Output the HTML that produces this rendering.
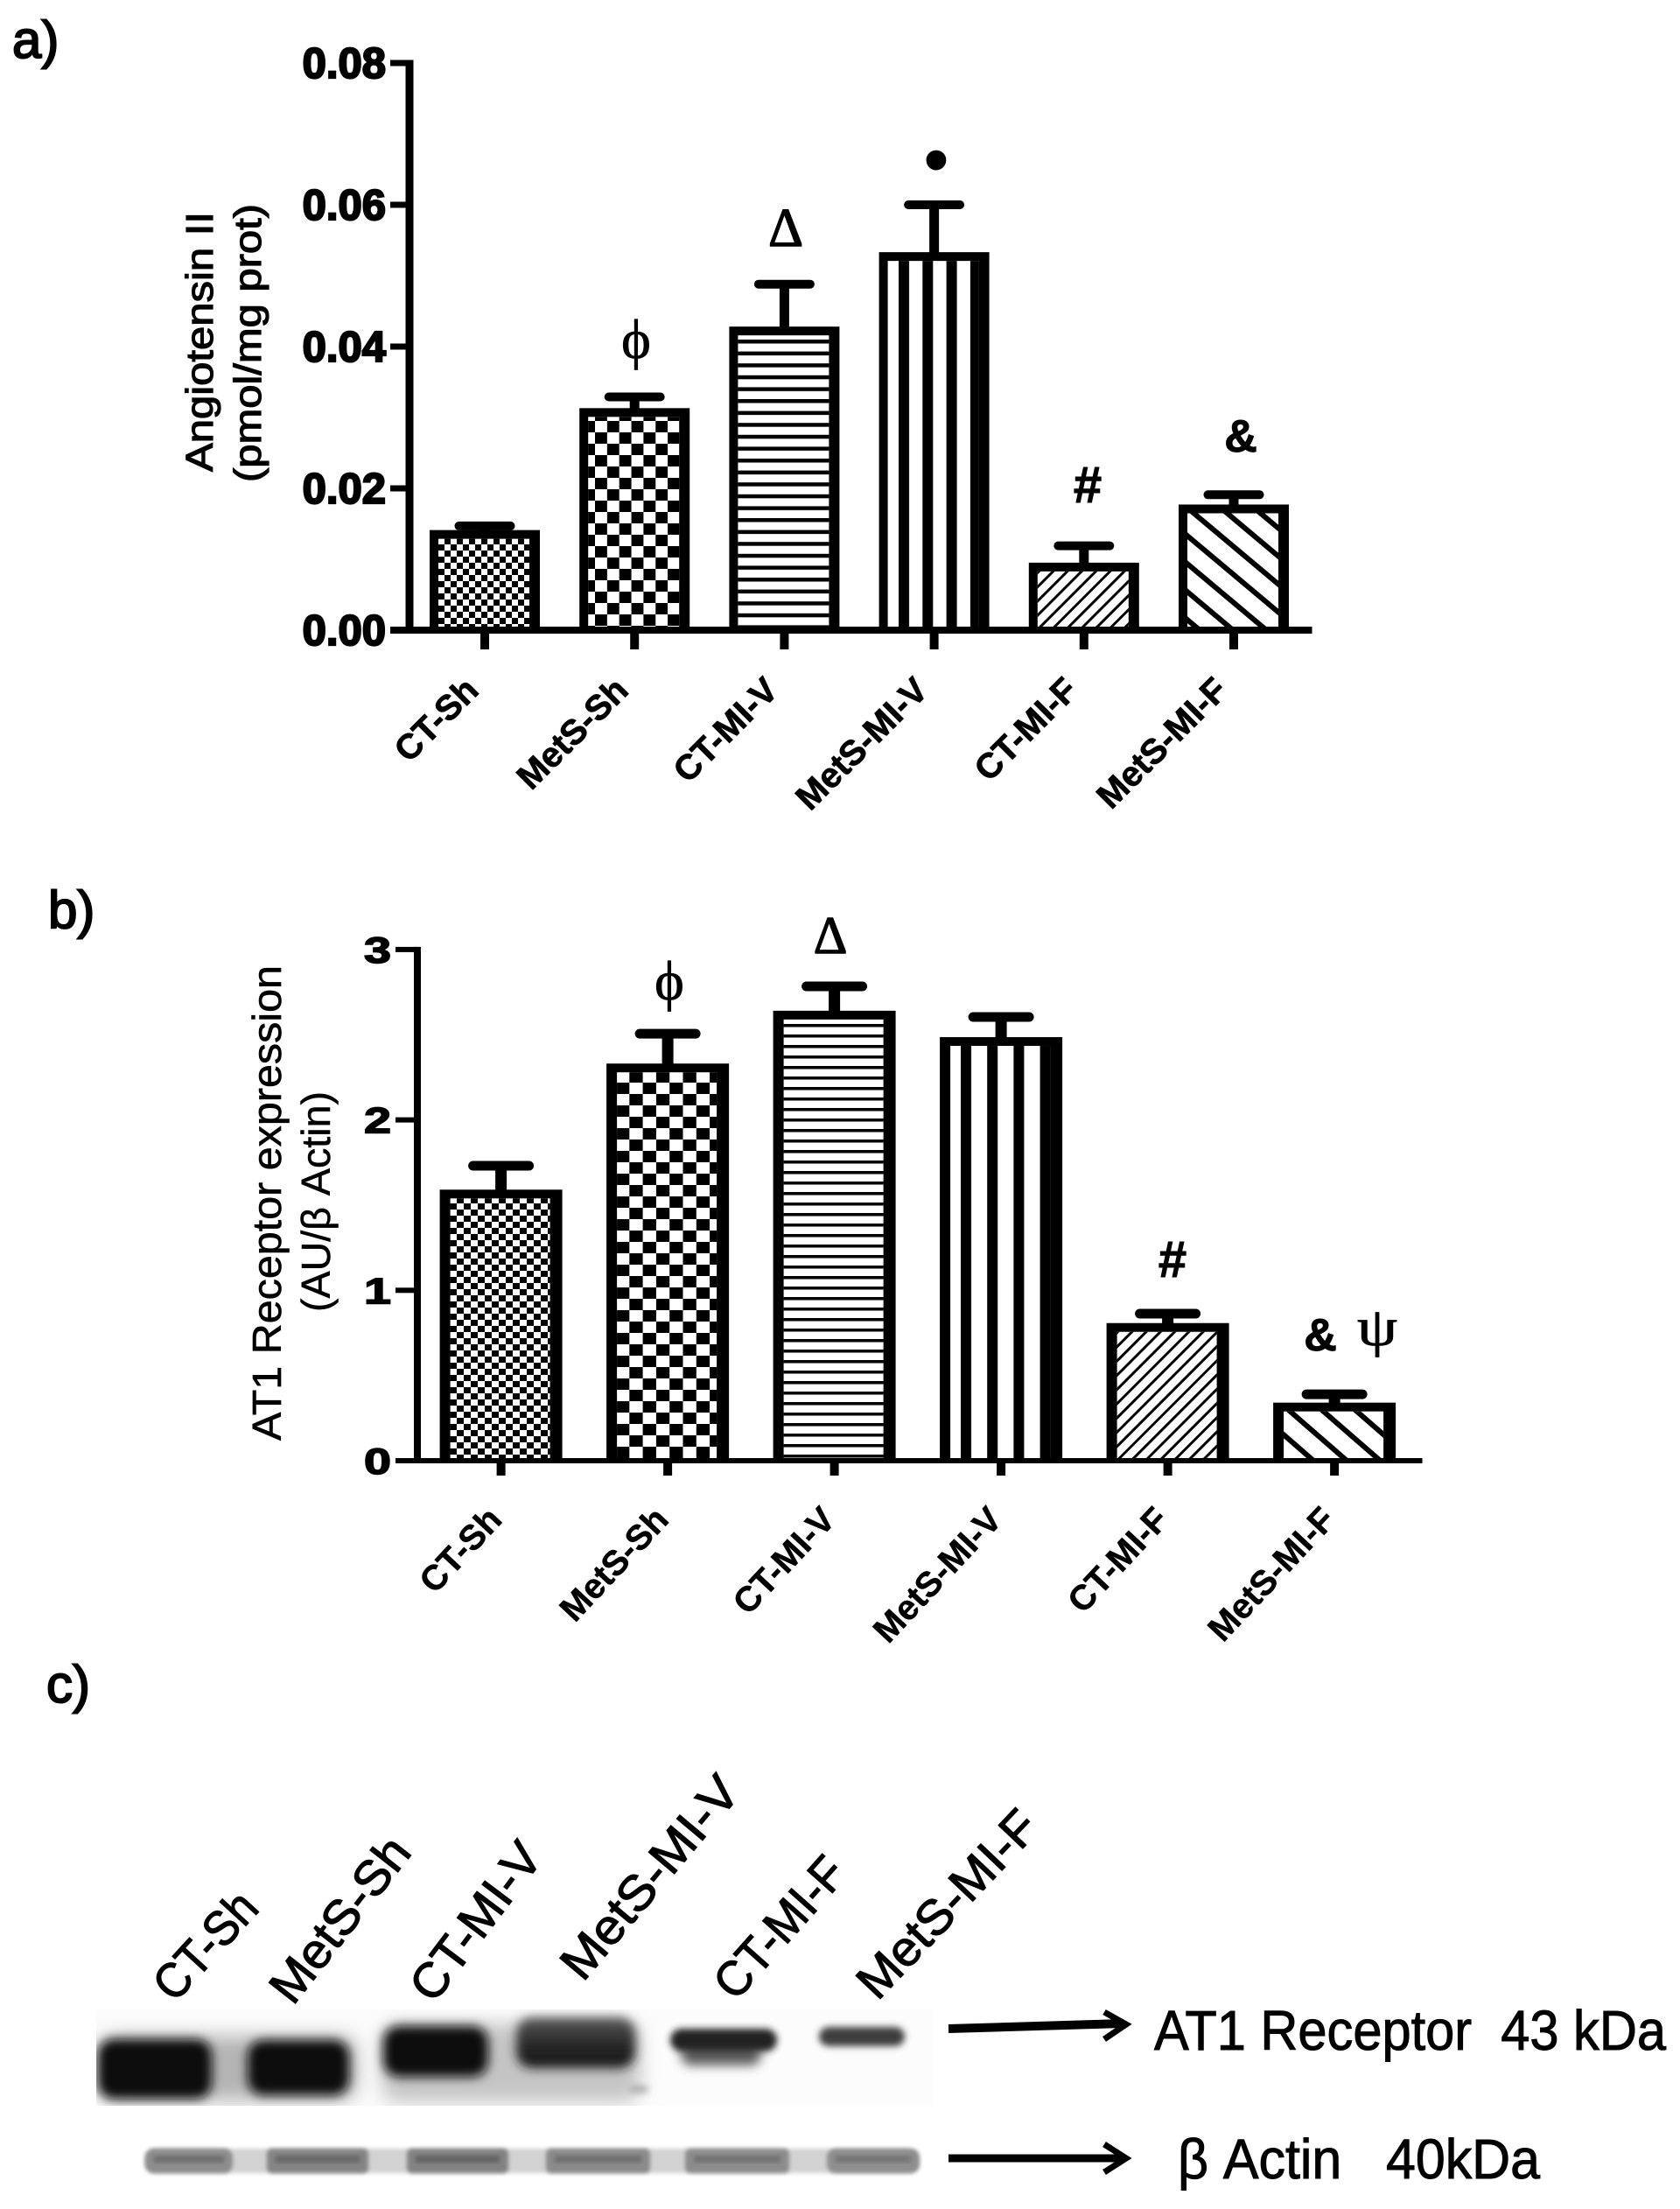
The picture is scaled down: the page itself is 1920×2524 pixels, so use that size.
<!DOCTYPE html>
<html lang="en">
<head>
<meta charset="utf-8">
<title>Angiotensin II and AT1 receptor expression</title>
<style>
html,body{margin:0;padding:0;background:#fff;}
svg{display:block;}
text{font-family:"Liberation Sans",sans-serif;fill:#000;}
.panel{font-size:60px;stroke:#000;stroke-width:2px;}
.sym{font-family:"Liberation Serif","DejaVu Serif",serif;text-anchor:middle;}
.hash{font-weight:bold;text-anchor:middle;font-size:58px;stroke:#000;stroke-width:1px;}
.blot-label{font-size:56px;stroke:#000;stroke-width:1.2px;text-anchor:end;}
.ann{font-size:64px;white-space:pre;stroke:#000;stroke-width:1px;}
</style>
</head>
<body>
<svg id="figure" xmlns="http://www.w3.org/2000/svg" width="1920" height="2524" viewBox="0 0 1920 2524">
<defs>
  <pattern id="a0" patternUnits="userSpaceOnUse" x="501" y="615" width="14" height="14"><rect x="7" width="7" height="7"/><rect y="7" width="7" height="7"/></pattern>
  <pattern id="a1" patternUnits="userSpaceOnUse" x="680" y="572" width="27.7" height="26"><rect width="13.85" height="13"/><rect x="13.85" y="13" width="13.85" height="13"/></pattern>
  <pattern id="a2" patternUnits="userSpaceOnUse" x="842" y="388" width="10" height="13.6"><rect width="10" height="4.5"/></pattern>
  <pattern id="a3" patternUnits="userSpaceOnUse" x="1027" y="0" width="27.3" height="10"><rect width="12" height="10"/></pattern>
  <pattern id="a4" patternUnits="userSpaceOnUse" width="11.5" height="11.5" patternTransform="rotate(45 1186 652)" x="1186" y="652"><rect width="3" height="11.5"/></pattern>
  <pattern id="a5" patternUnits="userSpaceOnUse" width="24.5" height="24.5" patternTransform="rotate(-50 1358 585)" x="1358" y="585"><rect width="6" height="24.5"/></pattern>
  <pattern id="b0" patternUnits="userSpaceOnUse" x="514" y="1368" width="16" height="14"><rect x="8" width="8" height="7"/><rect y="7" width="8" height="7"/></pattern>
  <pattern id="b1" patternUnits="userSpaceOnUse" x="704" y="1224" width="30.6" height="26"><rect x="15.3" width="15.3" height="13"/><rect y="13" width="15.3" height="13"/></pattern>
  <pattern id="b2" patternUnits="userSpaceOnUse" x="893" y="1170" width="10" height="12"><rect width="10" height="3.5"/></pattern>
  <pattern id="b3" patternUnits="userSpaceOnUse" x="1098" y="0" width="30.2" height="10"><rect width="12" height="10"/></pattern>
  <pattern id="b4" patternUnits="userSpaceOnUse" width="11.5" height="11.5" patternTransform="rotate(45 1276 1521)" x="1276" y="1521"><rect width="3" height="11.5"/></pattern>
  <pattern id="b5" patternUnits="userSpaceOnUse" width="25" height="25" patternTransform="rotate(-49 1468 1611)" x="1468" y="1611"><rect width="6" height="25"/></pattern>
  <linearGradient id="band4-fill" x1="0" y1="0" x2="0" y2="1"><stop offset="0" stop-color="#5a5a5a"/><stop offset=".55" stop-color="#262626"/><stop offset="1" stop-color="#161616"/></linearGradient>
  <filter id="blur-haze" x="-30%" y="-60%" width="160%" height="220%"><feGaussianBlur stdDeviation="11"/></filter>
  <filter id="blur-band" x="-30%" y="-60%" width="160%" height="220%"><feGaussianBlur stdDeviation="6"/></filter>
  <filter id="blur-small" x="-15%" y="-80%" width="130%" height="260%"><feGaussianBlur stdDeviation="4"/></filter>
  <filter id="blur-edge" x="-5%" y="-20%" width="110%" height="140%"><feGaussianBlur stdDeviation="2.5"/></filter>
  <clipPath id="blot-clip"><rect x="110" y="2296" width="955" height="110"/></clipPath>
</defs>

<text class="panel" x="14" y="66">a)</text>
<text class="panel" x="55" y="1060">b)</text>
<text class="panel" x="53" y="1945">c)</text>

<g id="chart-a"></g>
<g id="chart-b"></g>

<g>
  <text class="sym" x="727" y="409" font-size="64" stroke="#000" stroke-width=".8">ϕ</text>
  <text class="sym" x="898" y="281" font-size="62" stroke="#000" stroke-width="1.4">Δ</text>
  <text x="1070" y="211" font-size="84" text-anchor="middle">•</text>
  <text class="hash" x="1243" y="574">#</text>
  <text class="hash" x="1418" y="516" style="font-size:52px">&amp;</text>
</g>
<g>
  <text class="sym" x="765" y="1142" font-size="64" stroke="#000" stroke-width=".8">ϕ</text>
  <text class="sym" x="949" y="1089" font-size="60" stroke="#000" stroke-width="1.4">Δ</text>
  <text class="hash" x="1340" y="1459">#</text>
  <text class="hash" x="1509" y="1543" style="font-size:52px">&amp;</text>
  <text class="sym" x="1574" y="1537" font-size="62" stroke="#000" stroke-width=".8" textLength="46" lengthAdjust="spacingAndGlyphs">ψ</text>
</g>

<g>
  <g>
    <text class="blot-label" transform="translate(298 2182) rotate(-47.5)" textLength="146" lengthAdjust="spacingAndGlyphs">CT-Sh</text>
    <text class="blot-label" transform="translate(472 2117) rotate(-52)" textLength="223" lengthAdjust="spacingAndGlyphs">MetS-Sh</text>
    <text class="blot-label" transform="translate(622 2123) rotate(-53)" textLength="210" lengthAdjust="spacingAndGlyphs">CT-MI-V</text>
    <text class="blot-label" transform="translate(848 2049) rotate(-50)" textLength="283" lengthAdjust="spacingAndGlyphs">MetS-MI-V</text>
    <text class="blot-label" transform="translate(970 2142) rotate(-48.4)" textLength="195" lengthAdjust="spacingAndGlyphs">CT-MI-F</text>
    <text class="blot-label" transform="translate(1190 2090) rotate(-46.5)" textLength="272" lengthAdjust="spacingAndGlyphs">MetS-MI-F</text>
  </g>

  <g clip-path="url(#blot-clip)">
    <rect x="110" y="2296" width="955" height="110" fill="#fcfcfc"/>
    <rect x="112" y="2326" width="296" height="74" rx="18" fill="#b4b4b4" filter="url(#blur-haze)"/>
    <rect x="436" y="2312" width="296" height="90" rx="18" fill="#c4c4c4" filter="url(#blur-haze)"/>
    <rect x="112" y="2330" width="130" height="68" rx="18" fill="#0a0a0a" filter="url(#blur-band)"/>
    <rect x="283" y="2331" width="116" height="63" rx="18" fill="#0d0d0d" filter="url(#blur-band)"/>
    <rect x="438" y="2315" width="120" height="58" rx="18" fill="#111" filter="url(#blur-band)"/>
    <rect x="590" y="2305" width="136" height="58" rx="18" fill="url(#band4-fill)" filter="url(#blur-band)"/>
    <rect x="778" y="2336" width="92" height="24" rx="12" fill="#5c5c5c" filter="url(#blur-band)"/>
    <rect x="766" y="2318" width="122" height="26" rx="13" fill="#222" filter="url(#blur-small)"/>
    <rect x="936" y="2316" width="98" height="22" rx="11" fill="#3c3c3c" filter="url(#blur-small)"/>
    <ellipse cx="730" cy="2387" rx="12" ry="4" fill="#aaa" filter="url(#blur-small)"/>
  </g>

  <g>
    <rect x="165" y="2455" width="884" height="28" rx="12" fill="#d2d2d2" filter="url(#blur-edge)"/>
    <rect x="166" y="2455" width="100" height="28" rx="10" fill="#8c8c8c" filter="url(#blur-edge)"/>
    <rect x="305" y="2455" width="116" height="28" rx="6" fill="#848484" filter="url(#blur-edge)"/>
    <rect x="465" y="2455" width="116" height="28" rx="6" fill="#828282" filter="url(#blur-edge)"/>
    <rect x="624" y="2455" width="119" height="28" rx="6" fill="#8a8a8a" filter="url(#blur-edge)"/>
    <rect x="783" y="2455" width="119" height="28" rx="6" fill="#8c8c8c" filter="url(#blur-edge)"/>
    <rect x="945" y="2455" width="106" height="28" rx="10" fill="#8e8e8e" filter="url(#blur-edge)"/>
    <rect x="176" y="2463" width="80" height="8" fill="#707070" filter="url(#blur-edge)"/>
    <rect x="315" y="2463" width="96" height="8" fill="#686868" filter="url(#blur-edge)"/>
    <rect x="475" y="2463" width="96" height="8" fill="#646464" filter="url(#blur-edge)"/>
    <rect x="634" y="2463" width="99" height="8" fill="#707070" filter="url(#blur-edge)"/>
    <rect x="793" y="2463" width="99" height="8" fill="#727272" filter="url(#blur-edge)"/>
    <rect x="955" y="2463" width="86" height="8" fill="#767676" filter="url(#blur-edge)"/>
  </g>

  <g fill="none" stroke="#000">
    <path d="M1084 2318 L1284 2312" stroke-width="10"/>
    <path d="M1262 2299 L1287 2313 L1262 2330" stroke-width="7"/>
  </g>
  <g fill="none" stroke="#000">
    <path d="M1084 2466 L1284 2466" stroke-width="9"/>
    <path d="M1262 2450 L1287 2466 L1262 2482" stroke-width="7"/>
  </g>
  <text class="ann" x="1319" y="2342" textLength="585" lengthAdjust="spacingAndGlyphs">AT1 Receptor  43 kDa</text>
  <text class="ann" x="1346" y="2489" textLength="414" lengthAdjust="spacingAndGlyphs">β Actin   40kDa</text>
</g>
</svg>

<script>
// Panel a data: Angiotensin II (pmol/mg prot)
const categoriesA = ['CT-Sh', 'MetS-Sh', 'CT-MI-V', 'MetS-MI-V', 'CT-MI-F', 'MetS-MI-F'];
const meansA = [0.0135, 0.0307, 0.0422, 0.0527, 0.0089, 0.0171];
const upperErrorsA = [0.0147, 0.0329, 0.0488, 0.0600, 0.0119, 0.0191];
const tickValuesA = [0, 0.02, 0.04, 0.06, 0.08];
const tickLabelsA = ['0.00', '0.02', '0.04', '0.06', '0.08'];

// Panel b data: AT1 receptor expression (AU/beta actin)
const categoriesB = ['CT-Sh', 'MetS-Sh', 'CT-MI-V', 'MetS-MI-V', 'CT-MI-F', 'MetS-MI-F'];
const meansB = [1.565, 2.305, 2.615, 2.460, 0.782, 0.315];
const upperErrorsB = [1.731, 2.506, 2.784, 2.604, 0.863, 0.390];
const tickValuesB = [0, 1, 2, 3];
const tickLabelsB = ['0', '1', '2', '3'];

const NS = 'http://www.w3.org/2000/svg';
function make(tag, parent, props) {
  const node = document.createElementNS(NS, tag);
  for (const key in props) node.setAttribute(key, props[key]);
  parent.appendChild(node);
  return node;
}

function drawChart(root, cfg, categories, means, uppers, tickValues, tickLabels) {
  const yScale = v => cfg.zeroY - cfg.pxPerUnit * v;
  const xScale = i => cfg.firstX + cfg.stepX * i;

  // bars
  means.forEach((value, i) => {
    const c = xScale(i);
    const top = yScale(value) - cfg.border / 2;
    const left = c - cfg.barW / 2;
    const outer = make('rect', root, {x: left, y: top, width: cfg.barW, height: cfg.zeroY - top, fill: '#000'});
    
    
    const inner = make('rect', root, {
      x: left + cfg.insetL,
      y: top + cfg.border,
      width: cfg.barW - cfg.insetL - cfg.insetR,
      height: Math.max(0, cfg.zeroY - top - cfg.border),
      fill: '#fff'
    });
    
    
    const hatch = make('rect', root, {
      x: left + cfg.insetL,
      y: top + cfg.border,
      width: cfg.barW - cfg.insetL - cfg.insetR,
      height: Math.max(0, cfg.zeroY - top - cfg.border),
      fill: 'url(#' + cfg.prefix + i + ')'
    });
    
    

    // error bar
    const capY = yScale(uppers[i]);
    const stem = make('rect', root, {x: c - cfg.stemW / 2, y: capY, width: cfg.stemW, height: Math.max(0, top - capY + 1), fill: '#000'});
    
    
    const cap = make('rect', root, {x: c - cfg.capW / 2, y: capY - cfg.capH / 2, width: cfg.capW, height: cfg.capH, rx: cfg.capH / 2, fill: '#000'});
    
    

    // x tick
    const tick = make('rect', root, {x: c - cfg.xTickW / 2, y: cfg.zeroY, width: cfg.xTickW, height: cfg.xTickBottom - cfg.zeroY, fill: '#000'});
    
    

    // x label
    const label = make('text', root, {
      transform: 'translate(' + (c + cfg.labelDx) + ' ' + cfg.labelY + ') rotate(' + cfg.labelAngle + ')',
      'text-anchor': 'end',
      'font-weight': 'bold',
      'font-size': cfg.labelSize,
      stroke: '#000',
      'stroke-width': cfg.labelStroke
    });
    label.textContent = categories[i];
    
    
  });

  // axes
  const yAxis = make('rect', root, {
    x: cfg.axisX - cfg.axisW / 2,
    y: yScale(tickValues[tickValues.length - 1]) - cfg.tickH / 2,
    width: cfg.axisW,
    height: cfg.zeroY + cfg.xAxisH / 2 - yScale(tickValues[tickValues.length - 1]) + cfg.tickH / 2,
    fill: '#000'
  });
  
  
  const xAxis = make('rect', root, {x: cfg.tickLeft, y: cfg.zeroY - cfg.xAxisH / 2, width: cfg.xAxisRight - cfg.tickLeft, height: cfg.xAxisH, fill: '#000'});
  
  

  tickValues.forEach((value, i) => {
    const y = yScale(value);
    const tick = make('rect', root, {x: cfg.tickLeft, y: y - cfg.tickH / 2, width: cfg.axisX - cfg.tickLeft, height: cfg.tickH, fill: '#000'});
    
    
    const props = {
      x: cfg.tickTextX,
      y: y + cfg.tickTextDy,
      'text-anchor': 'end',
      'font-weight': 'bold',
      'font-size': cfg.tickTextSize,
      stroke: '#000',
      'stroke-width': cfg.tickTextStroke
    };
    if (cfg.tickTextLength) {
      props.textLength = cfg.tickTextLength;
      props.lengthAdjust = 'spacingAndGlyphs';
    }
    const text = make('text', root, props);
    text.textContent = tickLabels[i];
    
    
  });
}

const chartA = document.getElementById('chart-a');
drawChart(chartA, {
  prefix: 'a', zeroY: 720, pxPerUnit: 8100, firstX: 554, stepX: 171.2, barW: 126,
  border: 10, insetL: 10, insetR: 12, stemW: 11, capW: 69, capH: 10,
  xTickW: 10, xTickBottom: 742, axisX: 468, axisW: 9, xAxisH: 8, tickH: 7,
  tickLeft: 446, xAxisRight: 1499.5, tickTextX: 441, tickTextDy: 17, tickTextSize: 49, tickTextStroke: 2.2,
  labelDx: -5, labelY: 791, labelAngle: -45, labelSize: 40, labelStroke: 0.8
}, categoriesA, meansA, upperErrorsA, tickValuesA, tickLabelsA);

const chartB = document.getElementById('chart-b');
drawChart(chartB, {
  prefix: 'b', zeroY: 1669, pxPerUnit: 194.7, firstX: 572.6, stepX: 190.5, barW: 140,
  border: 10, insetL: 12, insetR: 14, stemW: 13, capW: 75, capH: 11,
  xTickW: 10, xTickBottom: 1686, axisX: 477, axisW: 8, xAxisH: 6, tickH: 6,
  tickLeft: 452, xAxisRight: 1625.5, tickTextX: 447, tickTextDy: 15, tickTextSize: 42, tickTextStroke: 1.5, tickTextLength: 31,
  labelDx: 3, labelY: 1738, labelAngle: -47, labelSize: 40, labelStroke: 0.5
}, categoriesB, meansB, upperErrorsB, tickValuesB, tickLabelsB);

const titleA1 = make('text', chartA, {transform: 'translate(243 539) rotate(-90)', 'font-size': 44, stroke: '#000', 'stroke-width': 1.2, textLength: 297, lengthAdjust: 'spacingAndGlyphs'});
titleA1.textContent = 'Angiotensin II';


const titleA2 = make('text', chartA, {transform: 'translate(298 551) rotate(-90)', 'font-size': 44, stroke: '#000', 'stroke-width': 1.2, textLength: 318, lengthAdjust: 'spacingAndGlyphs'});
titleA2.textContent = '(pmol/mg prot)';


const titleB1 = make('text', chartB, {transform: 'translate(321 1646) rotate(-90)', 'font-size': 46, stroke: '#000', 'stroke-width': 0.6, textLength: 543, lengthAdjust: 'spacingAndGlyphs'});
titleB1.textContent = 'AT1 Receptor expression';


const titleB2 = make('text', chartB, {transform: 'translate(377 1499) rotate(-90)', 'font-size': 46, stroke: '#000', 'stroke-width': 0.5, textLength: 252, lengthAdjust: 'spacingAndGlyphs'});
titleB2.textContent = '(AU/β Actin)';


</script>
</body>
</html>
